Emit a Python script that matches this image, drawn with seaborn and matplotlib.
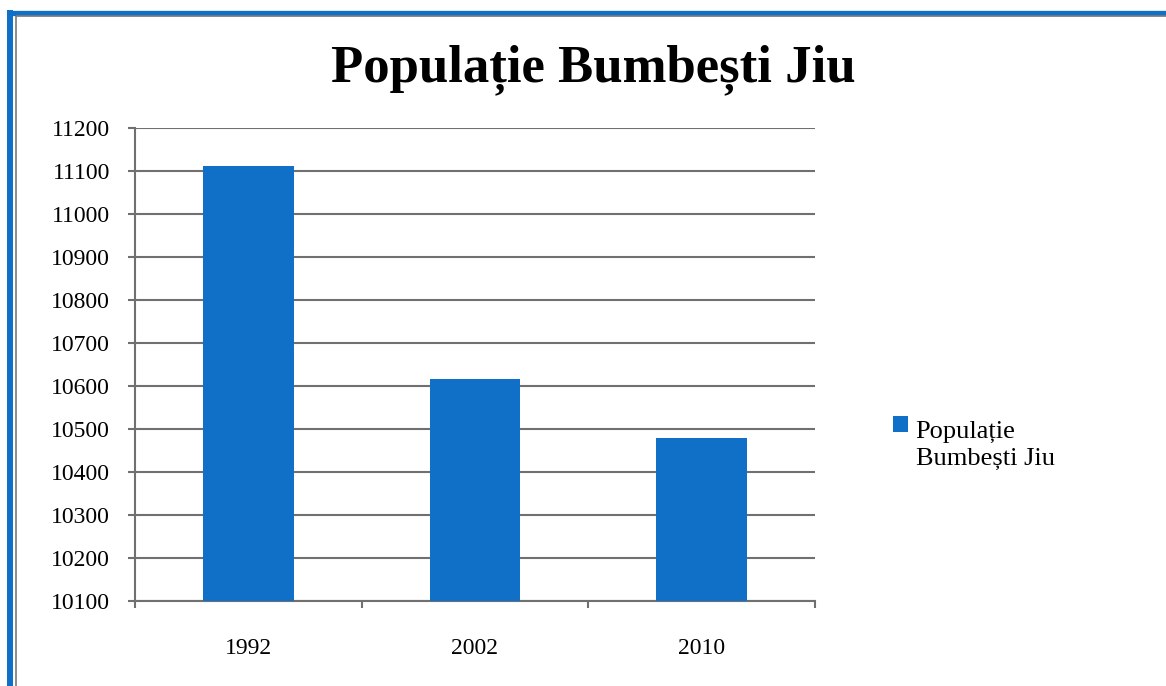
import matplotlib
matplotlib.use("Agg")
import matplotlib.pyplot as plt
import seaborn as sns
import pandas as pd
from matplotlib.patches import Patch
from matplotlib.lines import Line2D

years = ["1992", "2002", "2010"]
population = [11111, 10617, 10479]
y_ticks = list(range(10100, 11201, 100))
title = "Populație Bumbești Jiu"
legend_label = "Populație\nBumbești Jiu"

bar_color = "#106FC6"
grid_color = "#707070"

sns.set_theme(style="white")
plt.rcParams["font.family"] = ["Liberation Serif", "DejaVu Serif"]
plt.rcParams["text.color"] = "black"
plt.rcParams["xtick.color"] = "black"
plt.rcParams["ytick.color"] = "black"

W, H = 1166, 686
fig = plt.figure(figsize=(W / 100, H / 100), dpi=100)
ax = fig.add_axes([135 / W, 1 - 601 / H, (815 - 135) / W, (601 - 128) / H])

df = pd.DataFrame({"year": years, "pop": population})
sns.barplot(data=df, x="year", y="pop", color=bar_color, width=0.4,
            saturation=1, ax=ax, zorder=3, edgecolor="none", linewidth=0)

ax.set_ylim(10100, 11200)
ax.set_xlim(-0.5, 2.5)
ax.set_yticks(y_ticks)
ax.set_yticklabels([str(t) for t in y_ticks], fontsize=17)
ax.set_xlabel("")
ax.set_ylabel("")
ax.yaxis.grid(True, color=grid_color, linewidth=1.5, zorder=0)
ax.set_axisbelow(True)

for s in ["top", "right"]:
    ax.spines[s].set_visible(False)
for s in ["left", "bottom"]:
    ax.spines[s].set_color(grid_color)
    ax.spines[s].set_linewidth(1.5)

ax.tick_params(axis="y", which="major", direction="out", length=5, width=1.5,
               color=grid_color, labelcolor="black", pad=13, left=True)
ax.set_xticks([0, 1, 2])
ax.set_xticklabels(years, fontsize=17)
ax.set_xticks([-0.5, 0.5, 1.5, 2.5], minor=True)
ax.tick_params(axis="x", which="major", length=0, pad=27, labelcolor="black")
ax.tick_params(axis="x", which="minor", direction="out", length=5, width=1.5,
               color=grid_color, bottom=True)

fig.text(593 / W, 1 - 70 / H, title, ha="center", va="center",
         fontsize=38, fontweight="bold", color="black")

handle = Patch(facecolor=bar_color, edgecolor="none")
leg_fs = 19
line_sp = 1.3
leg = fig.legend(handles=[handle], labels=[legend_label],
                 loc="upper left", bbox_to_anchor=(880 / W, 1 - 408 / H),
                 frameon=False, fontsize=leg_fs, handlelength=0.55,
                 handleheight=0.55, handletextpad=0.3, borderpad=0,
                 labelcolor="black")
for t in leg.get_texts():
    t.set_linespacing(line_sp)
# align the legend square with the first line of the label
p = leg.get_patches()[0]
p.set_y(p.get_y() + 0.5 * line_sp * leg_fs + 3)

# frame lines (blue outer, gray inner) along top and left
fig.add_artist(Line2D([7 / W, 1], [1 - 12.5 / H, 1 - 12.5 / H],
                      color=bar_color, linewidth=3.8, solid_capstyle="butt",
                      transform=fig.transFigure))
fig.add_artist(Line2D([10 / W, 10 / W], [1 - 10 / H, 0],
                      color=bar_color, linewidth=4.3, solid_capstyle="butt",
                      transform=fig.transFigure))
fig.add_artist(Line2D([16 / W, 1], [1 - 16 / H, 1 - 16 / H],
                      color="#7a7a7a", linewidth=1.2, solid_capstyle="butt",
                      transform=fig.transFigure))
fig.add_artist(Line2D([16 / W, 16 / W], [1 - 16 / H, 0],
                      color="#7a7a7a", linewidth=1.2, solid_capstyle="butt",
                      transform=fig.transFigure))

fig.savefig("out.png", dpi=100)
